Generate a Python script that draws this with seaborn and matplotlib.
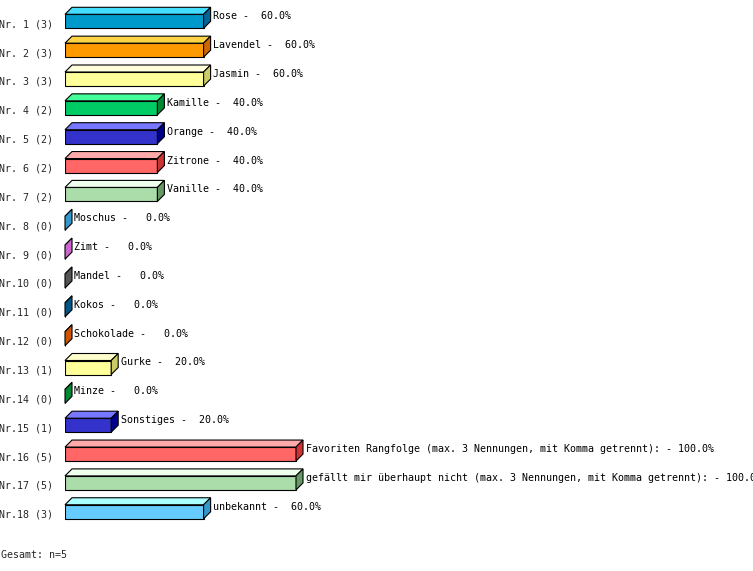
import numpy as np
import pandas as pd
import seaborn as sns
import matplotlib.pyplot as plt
from matplotlib.patches import Polygon
import matplotlib.transforms as mtransforms

# ---- data ----
names = ["Rose", "Lavendel", "Jasmin", "Kamille", "Orange", "Zitrone", "Vanille",
         "Moschus", "Zimt", "Mandel", "Kokos", "Schokolade", "Gurke", "Minze",
         "Sonstiges",
         "Favoriten Rangfolge (max. 3 Nennungen, mit Komma getrennt):",
         "gefällt mir überhaupt nicht (max. 3 Nennungen, mit Komma getrennt):",
         "unbekannt"]
counts = [3, 3, 3, 2, 2, 2, 2, 0, 0, 0, 0, 0, 1, 0, 1, 5, 5, 3]
percents = [60.0, 60.0, 60.0, 40.0, 40.0, 40.0, 40.0, 0.0, 0.0, 0.0, 0.0, 0.0,
            20.0, 0.0, 20.0, 100.0, 100.0, 60.0]
total_n = 5

front_colors = ["#0099cc", "#ff9900", "#ffff99", "#00cc66", "#3333cc", "#ff6666",
                "#aaddaa", "#3399cc", "#cc66cc", "#555555", "#005588", "#cc5500",
                "#ffff99", "#008833", "#3333cc", "#ff6666", "#aaddaa", "#66ccff"]
top_colors = ["#44ddff", "#ffd444", "#ffffdd", "#44ff99", "#7777ff", "#ffaaaa",
              "#eeffee", "#3399cc", "#cc66cc", "#555555", "#005588", "#cc5500",
              "#ffffcc", "#008833", "#7777ff", "#ffaaaa", "#eeffee", "#aaffff"]
side_colors = ["#006699", "#cc6600", "#cccc66", "#008833", "#000088", "#cc3333",
               "#669966", "#3399cc", "#cc66cc", "#555555", "#005588", "#cc5500",
               "#cccc66", "#008833", "#000088", "#cc3333", "#669966", "#3399cc"]

row_labels = [f"Nr.{i + 1:>2} ({c})" for i, c in enumerate(counts)]

# ---- style ----
sns.set_theme(style="white")
plt.rcParams["font.family"] = ["DejaVu Sans Mono", "DejaVu Sans"]
FS = 7.2

W, H = 753, 571
fig = plt.figure(figsize=(W / 100, H / 100), dpi=100)
px_per_pct = 2.31
row_px = 28.85
top_px = 21.3 - row_px / 2
bot_px = 21.3 + row_px * 17 + row_px / 2
ax = fig.add_axes([65 / W, 1 - bot_px / H, (W - 65) / W, (bot_px - top_px) / H])

df = pd.DataFrame({"row": row_labels, "pct": percents})
bar_h = 14 / row_px
sns.barplot(data=df, x="pct", y="row", hue="row", palette=front_colors,
            legend=False, orient="h", width=bar_h, edgecolor="black",
            linewidth=0.8, ax=ax, saturation=1)

ax.set_xlim(0, (W - 65) / px_per_pct)
ax.set_ylim(len(names) - 0.5, -0.5)

dx = 7 / px_per_pct
dy = 7 / row_px

for i, p in enumerate(percents):
    top = i - bar_h / 2
    bottom = i + bar_h / 2
    top_face = Polygon([(0, top), (p, top), (p + dx, top - dy), (dx, top - dy)],
                       closed=True, facecolor=top_colors[i], edgecolor="black",
                       linewidth=0.8, clip_on=False)
    side_face = Polygon([(p, top), (p + dx, top - dy), (p + dx, bottom - dy), (p, bottom)],
                        closed=True, facecolor=side_colors[i], edgecolor="black",
                        linewidth=0.8, clip_on=False)
    ax.add_patch(top_face)
    ax.add_patch(side_face)
    ax.text(p + dx + 2.5 / px_per_pct, i - 5 / row_px,
            f"{names[i]} - {p:5.1f}%", fontsize=FS, va="center", ha="left",
            color="black", clip_on=False)

ax.set_xticks([])
ax.set_xlabel("")
ax.set_ylabel("")
ax.tick_params(axis="y", length=0, pad=8.4, labelsize=FS)
ax.set_yticks(range(len(row_labels)))
ax.set_yticklabels(row_labels)
offset = mtransforms.ScaledTranslation(0, -2 / 100, fig.dpi_scale_trans)
for lbl in ax.get_yticklabels():
    lbl.set_transform(lbl.get_transform() + offset)
for s in ax.spines.values():
    s.set_visible(False)
ax.patch.set_alpha(0)

fig.text(1 / W, 1 - 555 / H, f"Gesamt: n={total_n}", fontsize=FS, va="center", ha="left")

fig.savefig("out.png", dpi=100, facecolor="white")
